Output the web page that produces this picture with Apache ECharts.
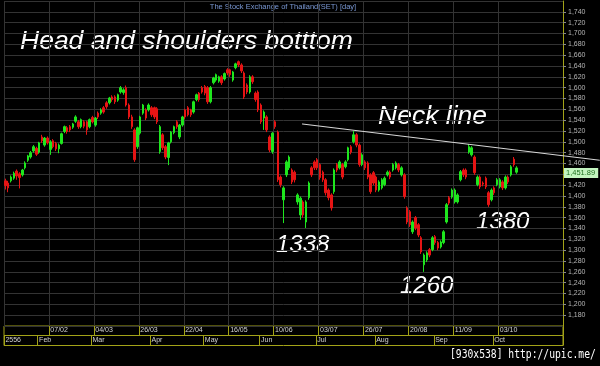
<!DOCTYPE html>
<html><head><meta charset="utf-8">
<script src="https://cdn.jsdelivr.net/npm/echarts@6/dist/echarts.min.js"></script>
<style>html,body{margin:0;padding:0;background:#000;}#c{width:600px;height:366px;}</style>
</head><body><div id="c"></div>
<script>
// ---- data ----
const dates = [
'16/01','17/01','18/01','21/01','22/01','23/01','24/01','25/01','28/01','29/01','30/01','31/01',
'01/02','04/02','05/02','06/02','07/02','08/02','11/02','12/02','13/02','14/02','15/02','18/02','19/02','20/02','21/02','22/02','26/02','27/02','28/02',
'01/03','04/03','05/03','06/03','07/03','08/03','11/03','12/03','13/03','14/03','15/03','18/03','19/03','20/03','21/03','22/03','25/03','26/03','27/03','28/03','29/03',
'01/04','02/04','03/04','04/04','05/04','09/04','10/04','11/04','12/04','17/04','18/04','19/04','22/04','23/04','24/04','25/04','26/04','29/04','30/04',
'02/05','03/05','07/05','08/05','09/05','10/05','13/05','14/05','15/05','16/05','17/05','20/05','21/05','22/05','23/05','27/05','28/05','29/05','30/05','31/05',
'03/06','04/06','05/06','06/06','07/06','10/06','11/06','12/06','13/06','14/06','17/06','18/06','19/06','20/06','21/06','24/06','25/06','26/06','27/06','28/06',
'02/07','03/07','04/07','05/07','08/07','09/07','10/07','11/07','12/07','15/07','16/07','17/07','18/07','19/07','23/07','24/07','25/07','26/07','29/07','30/07','31/07',
'01/08','02/08','05/08','06/08','07/08','08/08','09/08','13/08','14/08','15/08','16/08','19/08','20/08','21/08','22/08','23/08','26/08','27/08','28/08','29/08','30/08',
'02/09','03/09','04/09','05/09','06/09','09/09','10/09','11/09','12/09','13/09','16/09','17/09','18/09','19/09','20/09','23/09','24/09','25/09','26/09','27/09','30/09',
'01/10','02/10','03/10','04/10','07/10','08/10','09/10','10/10','11/10'
];
const opens = [
1428,1424,1428,1433,1446,1441,1439,1452,1466,1472,
1483,1488,1481,1509,1494,1507,1486,1502,1497,1487,
1497,1519,1526,1528,1527,1538,1537,1528,1537,1537,
1528,1545,1531,1553,1553,1563,1572,1572,1583,1583,
1577,1592,1591,1600,1568,1546,1522,1491,1516,1553,
1559,1559,1563,1563,1561,1482,1513,1491,1471,1500,
1517,1537,1509,1531,1559,1563,1559,1555,1578,1590,
1600,1602,1600,1574,1609,1614,1612,1620,1616,1633,
1633,1614,1637,1648,1642,1627,1605,1592,1620,1590,
1592,1568,1544,1546,1509,1482,1537,1518,1435,1393,
1439,1452,1448,1444,1389,1365,1389,1352,1397,1452,
1463,1467,1458,1444,1430,1411,1402,1408,1458,1452,
1458,1454,1467,1491,1500,1513,1494,1458,1463,1461,
1439,1443,1435,1411,1415,1421,1439,1444,1448,1452,
1458,1439,1439,1378,1371,1334,1360,1347,1323,1273,
1282,1301,1301,1325,1314,1306,1314,1352,1397,1398,
1389,1389,1430,1448,1448,1481,1476,1472,1421,1435,
1424,1433,1406,1393,1415,1421,1417,1426,1415,1435,
1439,1468,1444
];
const closes = [
1419,1415,1435,1442,1437,1434,1448,1461,1474,1480,
1491,1477,1498,1502,1507,1498,1500,1491,1487,1494,
1515,1528,1519,1522,1533,1546,1528,1541,1529,1522,
1541,1537,1544,1546,1559,1555,1565,1581,1578,1574,
1587,1600,1596,1568,1546,1528,1467,1526,1546,1568,
1544,1568,1550,1546,1537,1528,1489,1472,1498,1518,
1528,1528,1531,1546,1546,1550,1550,1574,1587,1578,
1592,1590,1574,1600,1618,1624,1620,1609,1626,1627,
1624,1629,1644,1642,1631,1583,1592,1620,1611,1578,
1559,1537,1555,1522,1485,1516,1528,1430,1421,1415,
1463,1472,1426,1430,1402,1396,1365,1389,1424,1439,
1452,1452,1434,1430,1406,1397,1378,1448,1448,1463,
1435,1463,1489,1481,1513,1494,1458,1476,1452,1435,
1408,1424,1411,1426,1430,1433,1444,1435,1458,1461,
1448,1452,1399,1352,1347,1352,1341,1328,1297,1291,
1295,1291,1323,1314,1304,1315,1334,1384,1387,1411,
1411,1402,1445,1439,1435,1491,1489,1443,1435,1417,
1422,1417,1384,1411,1406,1430,1430,1415,1435,1426,
1454,1458,1451.89
];
const lows = [
1412,1407,1425,1430,1430,1414,1436,1449,1463,1469,
1480,1474,1478,1498,1491,1495,1476,1488,1483,1479,
1495,1516,1515,1518,1524,1535,1524,1525,1525,1513,
1525,1534,1528,1542,1550,1552,1561,1569,1574,1570,
1574,1589,1587,1565,1542,1524,1463,1487,1513,1550,
1540,1556,1546,1542,1533,1478,1485,1468,1457,1497,
1514,1524,1505,1528,1542,1547,1546,1552,1575,1574,
1589,1586,1570,1571,1606,1611,1609,1605,1613,1623,
1620,1611,1634,1638,1627,1579,1588,1589,1607,1574,
1555,1533,1522,1518,1481,1478,1524,1426,1416,1350,
1435,1448,1422,1425,1384,1356,1360,1341,1393,1435,
1448,1448,1430,1426,1401,1392,1373,1404,1444,1449,
1431,1451,1464,1477,1497,1490,1454,1455,1448,1431,
1404,1420,1407,1408,1412,1418,1436,1431,1445,1449,
1444,1436,1395,1348,1343,1330,1337,1324,1293,1260,
1278,1287,1298,1310,1300,1303,1311,1349,1383,1395,
1386,1386,1427,1435,1431,1478,1473,1439,1418,1413,
1418,1413,1380,1390,1402,1418,1414,1411,1412,1422,
1436,1454,1441
];
const highs = [
1432,1428,1438,1445,1449,1444,1450,1464,1476,1483,
1494,1491,1500,1513,1509,1510,1503,1505,1500,1497,
1517,1530,1529,1531,1535,1549,1540,1543,1540,1539,
1543,1548,1546,1556,1562,1566,1575,1583,1586,1586,
1589,1603,1599,1604,1571,1550,1525,1528,1548,1570,
1562,1571,1566,1565,1564,1531,1516,1494,1500,1520,
1530,1540,1533,1548,1561,1566,1561,1576,1589,1592,
1603,1605,1603,1603,1620,1626,1622,1623,1628,1636,
1635,1631,1646,1650,1645,1630,1608,1623,1623,1593,
1595,1571,1558,1549,1512,1518,1540,1521,1438,1418,
1466,1475,1451,1447,1405,1399,1392,1392,1427,1455,
1466,1470,1461,1447,1433,1414,1405,1451,1461,1466,
1461,1466,1491,1494,1520,1516,1497,1479,1466,1464,
1442,1446,1438,1429,1433,1436,1447,1447,1461,1464,
1461,1455,1442,1381,1374,1355,1363,1350,1326,1294,
1298,1304,1326,1328,1317,1318,1337,1387,1400,1414,
1414,1405,1448,1451,1451,1496,1492,1475,1438,1438,
1427,1436,1409,1414,1418,1433,1433,1429,1438,1438,
1457,1472,1455
];
const weekLabels = ['07/02','04/03','26/03','22/04','16/05','10/06','03/07','26/07','20/08','11/09','03/10'];
const monthNames = ['Jan','Feb','Mar','Apr','May','Jun','Jul','Aug','Sep','Oct','Nov','Dec'];
const yearLabel = '2556';
const necklineX = [105.6, 211.6];
const necklineY = [1533, 1466];
const titleText = 'The Stock Exchange of Thailand(SET) [day]';
const headline = 'Head and shoulders botttom';
const necklineText = 'Neck line';
const lowLabels = ['1338', '1260', '1380'];
const watermark = '[930x538] http://upic.me/';

[opens, closes, lows, highs].forEach(a => { if (a.length !== dates.length) throw new Error('length mismatch ' + a.length + ' vs ' + dates.length); });

// ---- chart ----
const emptySlots = 16;
const cats = dates.concat(new Array(emptySlots).fill(''));
const candleData = dates.map((d, i) => [opens[i], closes[i], lows[i], highs[i]]);
const lastClose = closes[closes.length - 1];
const isStr = v => typeof v === 'string' && v !== '';
const isWeekLine = (i, v) => i === 0 || weekLabels.indexOf(v) >= 0;
const isWeekLabel = (i, v) => weekLabels.indexOf(v) >= 0;
const isMonth = (i, v) => i === 0 || (isStr(v) && isStr(cats[i - 1]) && v.slice(3) !== cats[i - 1].slice(3));
const yellow = '#a3a318';
const FONT = '"Liberation Sans", Arial, sans-serif';

// layout: main plot 4..563 px; an overlay grid 4..600 px with the same slot pitch carries the neck line
const plotLeft = 4, plotRight = 37, chartW = 600;
const pitch = (chartW - plotLeft - plotRight) / cats.length;
const overlayMax = -0.5 + (chartW - plotLeft) / pitch;

const chart = echarts.init(document.getElementById('c'), null, {renderer: 'canvas', width: 600, height: 366});
chart.setOption({
  animation: false,
  backgroundColor: '#000',
  textStyle: {fontFamily: FONT},
  grid: [
    {left: plotLeft, right: plotRight, top: 1, bottom: 40, outerBoundsMode: 'none'},
    {left: plotLeft, right: plotRight, top: 326, height: 9.5, show: true, borderColor: yellow, borderWidth: 1, backgroundColor: 'transparent', outerBoundsMode: 'none'},
    {left: plotLeft, right: plotRight, top: 335.5, height: 10, show: true, borderColor: yellow, borderWidth: 1, backgroundColor: 'transparent', outerBoundsMode: 'none'},
    {left: plotLeft, right: 0, top: 1, bottom: 40, outerBoundsMode: 'none'}
  ],
  xAxis: [
    {gridIndex: 0, type: 'category', data: cats, boundaryGap: true,
     axisLine: {show: false}, axisTick: {show: false}, axisLabel: {show: false},
     splitLine: {show: true, interval: isWeekLine, lineStyle: {color: '#333333', width: 1}}},
    {gridIndex: 3, type: 'value', min: -0.5, max: overlayMax, show: false},
    {gridIndex: 1, type: 'category', data: cats, boundaryGap: true,
     axisLine: {show: false}, axisTick: {show: false},
     splitLine: {show: true, interval: isWeekLabel, lineStyle: {color: yellow, width: 1}},
     axisLabel: {show: true, inside: true, interval: isWeekLabel, margin: 1.5, color: '#d4d4d4', fontSize: 7, align: 'left'}},
    {gridIndex: 2, type: 'category', data: cats, boundaryGap: true,
     axisLine: {show: false}, axisTick: {show: false},
     splitLine: {show: true, interval: isMonth, lineStyle: {color: yellow, width: 1}},
     axisLabel: {show: true, inside: true, interval: isMonth, margin: 1.5, color: '#d4d4d4', fontSize: 7, align: 'left',
       formatter: (v, i) => i === 0 ? yearLabel : monthNames[parseInt(v.slice(3), 10) - 1]}}
  ],
  yAxis: [
    {gridIndex: 0, type: 'value', position: 'right', min: 1160, max: 1760, interval: 20,
     axisLine: {show: true, lineStyle: {color: yellow, width: 1}},
     axisTick: {show: true, length: 3, lineStyle: {color: '#8a8a8a'}},
     axisLabel: {show: true, margin: 5, color: '#b4b4b4', fontSize: 7, showMinLabel: false, showMaxLabel: false,
       formatter: v => v.toLocaleString('en-US')},
     splitLine: {show: true, lineStyle: {color: '#333333', width: 1}}},
    {gridIndex: 1, type: 'value', show: false},
    {gridIndex: 2, type: 'value', show: false},
    {gridIndex: 3, type: 'value', min: 1160, max: 1760, show: false}
  ],
  series: [
    {type: 'candlestick', xAxisIndex: 0, yAxisIndex: 0, data: candleData, barWidth: 2,
     itemStyle: {color: '#1ee61e', color0: '#e61414', borderColor: '#1ee61e', borderColor0: '#e61414', borderWidth: 1},
     markLine: {silent: true, symbol: ['none', 'none'], lineStyle: {color: 'rgba(0,0,0,0)', width: 1, type: 'solid'},
       label: {show: true, position: 'end', distance: 1, align: 'left', verticalAlign: 'top',
         formatter: p => Number(p.value).toLocaleString('en-US', {minimumFractionDigits: 2, maximumFractionDigits: 2}),
         backgroundColor: '#c4f5c0', color: '#1f6f1f', fontSize: 7.5, padding: [1, 3, 1, 2]},
       data: [{yAxis: lastClose}]}},
    {type: 'line', xAxisIndex: 1, yAxisIndex: 3, data: necklineX.map((x, i) => [x, necklineY[i]]),
     symbol: 'none', silent: true, lineStyle: {color: '#d8d8d8', width: 1}}
  ],
  graphic: [
    {type: 'text', x: 283, y: 6.5, silent: true, style: {text: titleText, fill: '#7a98d4', font: '7.5px ' + FONT, align: 'center', verticalAlign: 'middle'}},
    {type: 'text', x: 20, y: 28, silent: true, style: {text: headline, fill: '#ffffff', font: 'italic 26.5px ' + FONT, verticalAlign: 'top'}},
    {type: 'text', x: 378, y: 103, silent: true, style: {text: necklineText, fill: '#ffffff', font: 'italic 26.5px ' + FONT, verticalAlign: 'top'}},
    {type: 'text', x: 276, y: 233, silent: true, style: {text: lowLabels[0], fill: '#ffffff', font: 'italic 24px ' + FONT, verticalAlign: 'top'}},
    {type: 'text', x: 400, y: 274, silent: true, style: {text: lowLabels[1], fill: '#ffffff', font: 'italic 24px ' + FONT, verticalAlign: 'top'}},
    {type: 'text', x: 476, y: 210, silent: true, style: {text: lowLabels[2], fill: '#ffffff', font: 'italic 24px ' + FONT, verticalAlign: 'top'}},
    {type: 'text', x: 450, y: 348, scaleY: 1.3, silent: true, style: {text: watermark, fill: '#ffffff', font: '9.7px "DejaVu Sans Mono"', verticalAlign: 'top'}}
  ]
});
</script>
</body></html>
